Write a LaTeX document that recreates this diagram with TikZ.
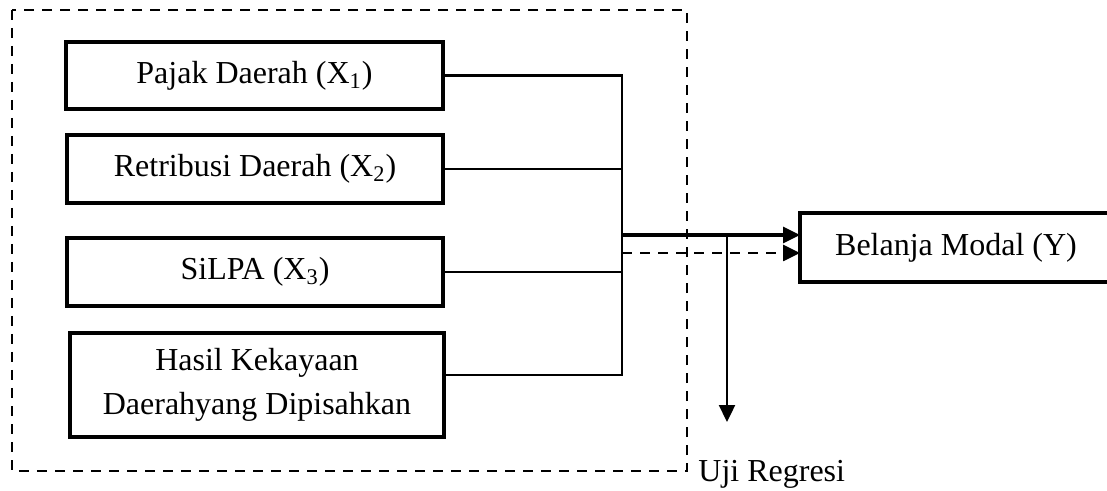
\documentclass[tikz,border=0pt]{standalone}
\usepackage{fontspec}
\setmainfont{Liberation Serif}
\usetikzlibrary{arrows.meta}
\begin{document}
\begin{tikzpicture}[x=0.5pt,y=-0.5pt,>={Triangle[length=8.5pt,width=8pt]},font=\fontsize{16}{22}\selectfont,
        kotak/.style={draw,line width=2pt,inner sep=0pt,outer sep=0pt,align=center},
        garis/.style={line width=1.2pt},
        putus/.style={line width=1.3pt,dash pattern=on 5pt off 4pt}]
    \useasboundingbox (0,0) rectangle (1107,491);
    % batas variabel bebas
    \draw[putus,line width=1.2pt] (12,10) rectangle (687,471);
    \node[kotak,minimum width=188.5pt,minimum height=33.5pt] (pajak) at (254.5,75.5) {Pajak Daerah (X\textsubscript{1})};
    \node[kotak,minimum width=188pt,minimum height=34pt] (retribusi) at (255,169) {Retribusi Daerah (X\textsubscript{2})};
    \node[kotak,minimum width=188pt,minimum height=34pt] (silpa) at (255,272) {SiLPA (X\textsubscript{3})};
    \node[kotak,minimum width=187pt,minimum height=52pt] (hasil) at (257,385) {Hasil Kekayaan\\Daerahyang Dipisahkan};
    \node[kotak,minimum width=156pt,minimum height=34.5pt] (belanja) at (956,247.5) {Belanja Modal (Y)};
    \node[anchor=base west,inner sep=0pt] (regresi) at (698,481) {Uji Regresi};
    \coordinate (simpul) at (622,235);
    \coordinate (uji) at (727,422);
    % garis penghubung
    \draw[garis] (pajak.east) -| (simpul) |- ([yshift=5pt]hasil.east);
    \draw[garis] (retribusi.east) -- (retribusi.east -| simpul);
    \draw[garis] (silpa.east) -- (silpa.east -| simpul);
    \draw[->,line width=1.6pt] (simpul) -- (simpul -| belanja.west);
    \draw[->,putus] ([yshift=-9pt]simpul) -- ([yshift=-9pt]simpul -| belanja.west);
    \draw[->,garis] (simpul -| uji) -- (uji);
\end{tikzpicture}
\end{document}
